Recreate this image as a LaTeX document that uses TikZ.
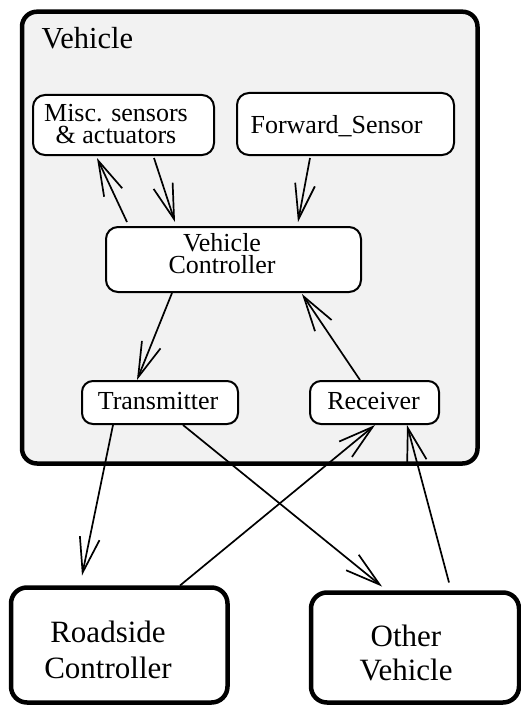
\documentclass[tikz,border=0pt]{standalone}
\usepackage{fontspec}
\setmainfont{Liberation Serif}
\usetikzlibrary{arrows.meta,calc}

\definecolor{panel}{HTML}{F2F2F2}

\tikzset{
  box/.style={draw, rounded corners=#1, inner sep=0pt, outer sep=0pt,
              fill=white, line width=2pt},
  box/.default=12pt,
  bigbox/.style={draw, rounded corners=16pt, inner sep=0pt, outer sep=0pt,
                 fill=white, line width=4.5pt},
  smalltxt/.style={inner sep=0pt, align=center,
                   font=\fontsize{26}{21.5}\selectfont},
  bigtxt/.style={inner sep=0pt, align=center,
                 font=\fontsize{31}{36}\selectfont},
  flow/.style={line width=1.7pt,
               -{Straight Barb[length=35pt,width=20pt,line width=1.7pt]}},
}

\begin{document}
\begin{tikzpicture}[x=1pt, y=-1pt]
  \useasboundingbox (0,0) rectangle (521,706);

  % the vehicle and its parts
  \node[bigbox, fill=panel, rounded corners=15pt,
        minimum width=455.5pt, minimum height=451.8pt] (veh) at (249.75,237.6) {};
  \node[anchor=base west, inner sep=0pt,
        font=\fontsize{30.5}{36}\selectfont] (vehtitle) at (41.5,49) {Vehicle};

  \node[box, minimum width=181pt, minimum height=60pt] (misc) at (123.5,125) {};
  \node[box, minimum width=217pt, minimum height=62pt] (fwd) at (345.5,124) {};
  \node[box, minimum width=255pt, minimum height=65pt] (ctrl) at (233.5,259.5) {};
  \node[box=11pt, minimum width=156pt, minimum height=43pt] (tx) at (160,402.5) {};
  \node[box=11pt, minimum width=129pt, minimum height=43pt] (rx) at (374.5,402.5) {};

  \node[smalltxt] (misct) at (116,123.9) {Misc. sensors\\\& actuators};
  \node[smalltxt] (fwdt) at (336.5,125.7) {Forward\_Sensor};
  \node[smalltxt, font=\fontsize{26}{22}\selectfont] (ctrlt) at (222,254.1) {Vehicle\\Controller};
  \node[smalltxt] (txt) at (158,401.4) {Transmitter};
  \node[smalltxt] (rxt) at (373.5,401.4) {Receiver};

  % outside parties
  \node[bigbox, minimum width=216.5pt, minimum height=115pt] (road) at (119.25,645) {};
  \node[bigbox, minimum width=208pt, minimum height=110pt] (oth) at (415,647.5) {};

  \node[bigtxt] (roadt) at (108,649.4) {Roadside\\Controller};
  \node[bigtxt, font=\fontsize{31}{33.3}\selectfont] (otht) at (406,652.9) {Other\\Vehicle};

  % data flows inside the vehicle
  \draw[flow] ($(ctrl.north west)+(21,-5)$) -- ($(misc.south west)+(64,3)$);
  \draw[flow] ($(misc.south west)+(121,3)$) -- ($(ctrl.north west)+(69,-5)$);
  \draw[flow] ($(fwd.south west)+(73,3)$) -- ($(ctrl.north west)+(192,-5)$);
  \draw[flow] ($(ctrl.south west)+(66,1)$) -- ($(tx.north west)+(55,-1)$);
  \draw[flow] ($(rx.north west)+(50,-1)$) -- ($(ctrl.south west)+(196,2)$);

  % radio links to the outside
  \draw[flow] ($(tx.south west)+(31,1)$) -- ($(road.north west)+(71,-12)$);
  \draw[flow] ($(tx.south west)+(101,1)$) -- ($(oth.north west)+(71,-6)$);
  \draw[flow] ($(road.north west)+(169,-2)$) -- ($(rx.south west)+(65,1)$);
  \draw[flow] ($(oth.north west)+(138,-10)$) -- ($(rx.south west)+(97,1)$);
\end{tikzpicture}
\end{document}
